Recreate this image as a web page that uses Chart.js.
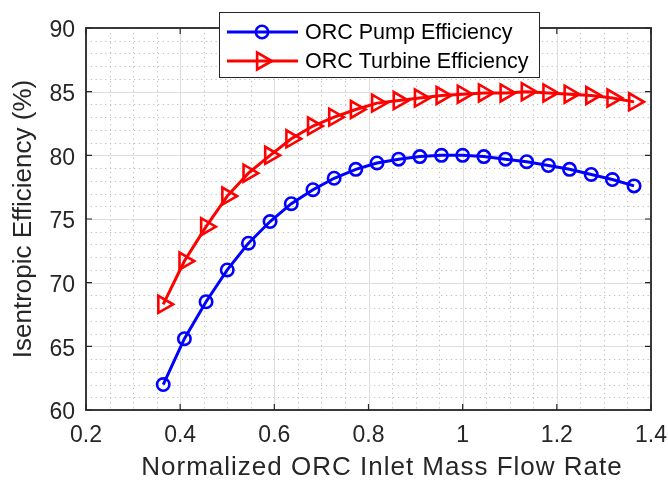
<!DOCTYPE html>
<html>
<head>
<meta charset="utf-8">
<script src="https://cdn.jsdelivr.net/npm/chart.js@4.4.1/dist/chart.umd.min.js"></script>
<style>
  html, body { margin: 0; padding: 0; background: #ffffff; }
  canvas { display: block; }
</style>
</head>
<body>
<canvas id="c" width="668" height="484"></canvas>
<script>
// ---- data ----
const xValues = [0.364, 0.409, 0.455, 0.500, 0.545, 0.591, 0.636, 0.682, 0.727, 0.773, 0.818, 0.864,
                 0.909, 0.955, 1.000, 1.045, 1.091, 1.136, 1.182, 1.227, 1.273, 1.318, 1.364];
const pumpEff = [62.0, 65.6, 68.5, 71.0, 73.1, 74.8, 76.2, 77.3, 78.2, 78.9, 79.4, 79.7,
                 79.9, 80.0, 80.0, 79.9, 79.7, 79.5, 79.2, 78.9, 78.5, 78.1, 77.6];
const turbineEff = [68.3, 71.7, 74.4, 76.8, 78.6, 80.0, 81.3, 82.3, 83.0, 83.6, 84.1, 84.3,
                    84.5, 84.7, 84.8, 84.9, 84.9, 85.0, 84.9, 84.8, 84.7, 84.5, 84.2];
const seriesNames = ['ORC Pump Efficiency', 'ORC Turbine Efficiency'];
const xTickLabels = ['0.2', '0.4', '0.6', '0.8', '1', '1.2', '1.4'];
const yTickLabels = ['60', '65', '70', '75', '80', '85', '90'];
const xTitle = 'Normalized ORC Inlet Mass Flow Rate';
const yTitle = 'Isentropic Efficiency (%)';

const FONT = '"Liberation Sans", Arial, Helvetica, sans-serif';
const AXIS_COLOR = '#262626';

function pairs(xs, ys) { return xs.map((x, i) => ({ x: x, y: ys[i] })); }

// Custom marker drawing (unfilled circle / right-pointing triangle)
function drawMarker(ctx, style, x, y, color) {
  ctx.save();
  ctx.strokeStyle = color;
  ctx.lineWidth = 2.6;
  ctx.beginPath();
  if (style === 'circle') {
    ctx.arc(x, y, 6.2, 0, Math.PI * 2);
  } else {
    const r = 9.8;
    for (let k = 0; k < 3; k++) {
      const a = Math.PI / 2 + k * 2 * Math.PI / 3;
      const px = x + Math.sin(a) * r, py = y - Math.cos(a) * r;
      if (k === 0) ctx.moveTo(px, py); else ctx.lineTo(px, py);
    }
    ctx.closePath();
  }
  ctx.stroke();
  ctx.restore();
}

const framePlugin = {
  id: 'matlabFrame',
  beforeDatasetsDraw(chart) {
    const ctx = chart.ctx, a = chart.chartArea;
    const xs = chart.scales.x, ys = chart.scales.y;
    ctx.save();
    // minor dotted grid
    ctx.strokeStyle = '#bdbdbd';
    ctx.lineWidth = 1;
    ctx.setLineDash([1.2, 3.6]);
    for (let v = 0.25; v < 1.4; v += 0.05) {
      if (Math.abs(v * 5 - Math.round(v * 5)) < 1e-6) continue;
      const px = Math.round(xs.getPixelForValue(v)) + 0.5;
      ctx.beginPath(); ctx.moveTo(px, a.top); ctx.lineTo(px, a.bottom); ctx.stroke();
    }
    for (let v = 61; v < 90; v += 1) {
      if (v % 5 === 0) continue;
      const py = Math.round(ys.getPixelForValue(v)) + 0.5;
      ctx.beginPath(); ctx.moveTo(a.left, py); ctx.lineTo(a.right, py); ctx.stroke();
    }
    // major solid grid
    ctx.setLineDash([]);
    ctx.strokeStyle = '#dedede';
    xs.ticks.forEach(t => {
      const px = Math.round(xs.getPixelForValue(t.value)) + 0.5;
      ctx.beginPath(); ctx.moveTo(px, a.top); ctx.lineTo(px, a.bottom); ctx.stroke();
    });
    ys.ticks.forEach(t => {
      const py = Math.round(ys.getPixelForValue(t.value)) + 0.5;
      ctx.beginPath(); ctx.moveTo(a.left, py); ctx.lineTo(a.right, py); ctx.stroke();
    });
    ctx.restore();
  },
  afterDatasetsDraw(chart) {
    const ctx = chart.ctx, a = chart.chartArea;
    const xs = chart.scales.x, ys = chart.scales.y;
    // markers on top of lines
    chart.data.datasets.forEach((ds, i) => {
      const meta = chart.getDatasetMeta(i);
      meta.data.forEach(pt => drawMarker(ctx, ds.markerStyle, pt.x, pt.y, ds.borderColor));
    });
    ctx.save();
    ctx.strokeStyle = AXIS_COLOR;
    ctx.lineWidth = 1.8;
    ctx.strokeRect(a.left, a.top, a.right - a.left, a.bottom - a.top);
    ctx.lineWidth = 1.2;
    const tl = 6;
    xs.ticks.forEach(t => {
      const px = xs.getPixelForValue(t.value);
      ctx.beginPath();
      ctx.moveTo(px, a.bottom); ctx.lineTo(px, a.bottom - tl);
      ctx.moveTo(px, a.top); ctx.lineTo(px, a.top + tl);
      ctx.stroke();
    });
    ys.ticks.forEach(t => {
      const py = ys.getPixelForValue(t.value);
      ctx.beginPath();
      ctx.moveTo(a.left, py); ctx.lineTo(a.left + tl, py);
      ctx.moveTo(a.right, py); ctx.lineTo(a.right - tl, py);
      ctx.stroke();
    });
    ctx.restore();
  },
  afterDraw(chart) {
    const ctx = chart.ctx, a = chart.chartArea;
    ctx.save();
    // axis titles
    ctx.fillStyle = AXIS_COLOR;
    ctx.textBaseline = 'middle';
    ctx.textAlign = 'center';
    ctx.font = '26px ' + FONT;
    try { ctx.letterSpacing = '1px'; } catch (e) {}
    ctx.fillText(xTitle, 382, 468);
    try { ctx.letterSpacing = '0px'; } catch (e) {}
    ctx.save();
    ctx.translate(24, (a.top + a.bottom) / 2);
    ctx.rotate(-Math.PI / 2);
    ctx.fillText(yTitle, 0, 0);
    ctx.restore();

    // legend
    const bx = 219.5, by = 12.5, bw = 320, bh = 65;
    ctx.fillStyle = '#ffffff';
    ctx.fillRect(bx, by, bw, bh);
    ctx.strokeStyle = AXIS_COLOR;
    ctx.lineWidth = 1;
    ctx.strokeRect(bx, by, bw, bh);
    chart.data.datasets.forEach((ds, i) => {
      const y = 32 + i * 29;
      ctx.strokeStyle = ds.borderColor;
      ctx.lineWidth = 3;
      ctx.beginPath(); ctx.moveTo(227, y); ctx.lineTo(298, y); ctx.stroke();
      drawMarker(ctx, ds.markerStyle, 262, y, ds.borderColor);
      ctx.fillStyle = '#000000';
      ctx.textAlign = 'left';
      ctx.textBaseline = 'middle';
      ctx.font = '21.5px ' + FONT;
      ctx.fillText(ds.label, 305, y + 1);
    });
    ctx.restore();
  }
};

new Chart(document.getElementById('c'), {
  type: 'line',
  data: {
    datasets: [
      { label: seriesNames[0], data: pairs(xValues, pumpEff), borderColor: '#0000ff',
        borderWidth: 3, pointRadius: 0, markerStyle: 'circle', fill: false, tension: 0 },
      { label: seriesNames[1], data: pairs(xValues, turbineEff), borderColor: '#ff0000',
        borderWidth: 3, pointRadius: 0, markerStyle: 'triangle', fill: false, tension: 0 }
    ]
  },
  options: {
    responsive: false,
    animation: false,
    devicePixelRatio: 1,
    layout: { padding: { left: 0, right: 17, top: 28, bottom: 0 } },
    plugins: { legend: { display: false }, tooltip: { enabled: false } },
    scales: {
      x: {
        type: 'linear', min: 0.2, max: 1.4,
        afterFit(s) { s.height = 74; s.paddingLeft = 0; s.paddingRight = 0; },
        grid: { display: false, drawTicks: false },
        border: { display: false },
        ticks: {
          stepSize: 0.2, autoSkip: false, maxRotation: 0, padding: 12,
          color: AXIS_COLOR, font: { family: FONT, size: 23 },
          callback: (v, i) => xTickLabels[i]
        }
      },
      y: {
        type: 'linear', min: 60, max: 90,
        afterFit(s) { s.width = 86; s.paddingTop = 0; s.paddingBottom = 0; },
        grid: { display: false, drawTicks: false },
        border: { display: false },
        ticks: {
          stepSize: 5, autoSkip: false, padding: 11, labelOffset: 3,
          color: AXIS_COLOR, font: { family: FONT, size: 23 },
          callback: (v, i) => yTickLabels[i]
        }
      }
    }
  },
  plugins: [framePlugin]
});
</script>
</body>
</html>
